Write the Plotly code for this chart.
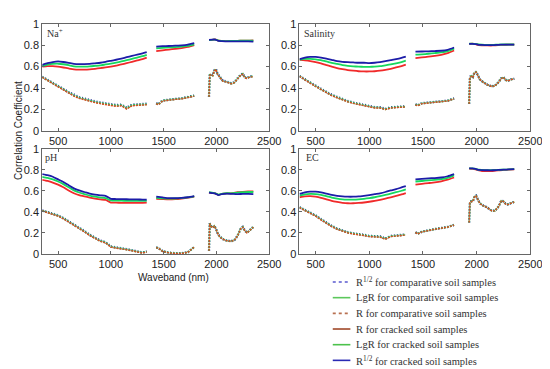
import plotly.graph_objects as go

# ---------------- data ----------------
# wavelength grids (nm); None marks the water-absorption gaps
XU = [350, 400, 450, 500, 550, 600, 650, 700, 750, 800, 850, 900, 950, 1000, 1050, 1100, 1150, 1200, 1250, 1300, 1340, None,
      1430, 1490, 1550, 1610, 1670, 1730, 1790, None,
      1930, 1960, 1990, 2020, 2050, 2100, 2150, 2200, 2250, 2300, 2350]
XL = [350, 400, 450, 500, 550, 600, 650, 700, 750, 800, 850, 900, 950, 1000, 1050, 1100, 1150, 1200, 1250, 1300, 1340, None,
      1430, 1450, 1490, 1550, 1610, 1670, 1730, 1790, None,
      1930, 1937, 1950, 1965, 1980, 1995, 2010, 2030, 2060, 2100, 2140, 2170, 2200, 2230, 2250, 2270, 2290, 2320, 2350]

PANEL_LABELS = ["Na<sup>+</sup>", "Salinity", "pH", "EC"]
X_TICKS = [500, 1000, 1500, 2000, 2500]
Y_TICKS = [0, 0.2, 0.4, 0.6, 0.8, 1]
Y_TICK_TEXT = ["0", "0.2", "0.4", "0.6", "0.8", "1"]

# ---- Na+ ----
NA_CR_R12 = [.617, .632, .643, .648, .643, .635, .626, .623, .624, .626, .631, .636, .644, .654, .664, .675, .688, .700, .712, .724, .735, None,
             .787, .790, .792, .795, .798, .805, .818, None,
             .850, .852, .852, .840, .838, .835, .835, .835, .836, .835, .833]
NA_CR_LGR = [.605, .618, .625, .627, .622, .613, .603, .600, .600, .602, .607, .612, .620, .628, .637, .648, .660, .672, .685, .697, .710, None,
             .770, .775, .779, .782, .786, .793, .808, None,
             .848, .850, .852, .842, .840, .838, .840, .840, .842, .842, .843]
NA_CR_R = [.600, .605, .605, .600, .592, .583, .575, .572, .572, .575, .580, .586, .593, .600, .610, .620, .632, .645, .658, .670, .684, None,
           .744, .752, .759, .766, .773, .783, .800, None,
           .848, .850, .853, .842, .840, .838, .840, .840, .843, .843, .845]
NA_CP_R12 = [.505, .478, .450, .425, .392, .362, .337, .317, .302, .287, .277, .267, .258, .248, .243, .246, .218, .246, .250, .250, .255, None,
             .260, .250, .285, .295, .300, .305, .315, .330, None,
             .320, .525, .530, .520, .565, .578, .535, .505, .470, .460, .445, .455, .495, .525, .535, .500, .495, .510, .510]
NA_CP_LGR = [.503, .474, .445, .420, .386, .356, .331, .311, .296, .281, .271, .261, .252, .242, .237, .241, .212, .241, .245, .245, .250, None,
             .258, .248, .283, .293, .298, .303, .313, .328, None,
             .320, .522, .527, .517, .562, .576, .532, .502, .467, .457, .442, .452, .492, .522, .532, .497, .492, .507, .507]
NA_CP_R = [.500, .470, .440, .415, .380, .350, .325, .305, .290, .275, .265, .255, .245, .235, .230, .235, .205, .235, .240, .240, .245, None,
           .255, .245, .280, .290, .295, .300, .310, .325, None,
           .320, .520, .525, .515, .560, .575, .530, .500, .465, .455, .440, .450, .490, .520, .530, .495, .490, .505, .505]

# ---- Salinity ----
SA_CR_R12 = [.669, .684, .690, .690, .684, .675, .663, .651, .645, .642, .639, .636, .636, .633, .636, .642, .651, .660, .669, .681, .693, None,
             .740, .741, .743, .745, .748, .757, .778, None,
             .812, .812, .810, .803, .802, .800, .800, .803, .805, .805, .805]
SA_CR_LGR = [.665, .672, .672, .668, .660, .648, .635, .625, .615, .608, .603, .600, .598, .598, .600, .604, .612, .620, .630, .642, .655, None,
             .712, .715, .720, .726, .733, .745, .768, None,
             .815, .815, .812, .806, .804, .802, .802, .805, .806, .806, .806]
SA_CR_R = [.662, .658, .652, .643, .630, .615, .600, .587, .577, .568, .562, .557, .555, .555, .557, .562, .570, .580, .592, .605, .618, None,
           .680, .686, .693, .700, .710, .725, .750, None,
           .812, .815, .810, .800, .798, .797, .797, .801, .803, .804, .804]
SA_CP_R12 = [.512, .480, .452, .423, .393, .363, .338, .318, .298, .280, .266, .256, .248, .233, .223, .222, .207, .221, .226, .226, .231, None,
             .250, .240, .260, .266, .269, .274, .284, .304, None,
             .255, .505, .515, .505, .548, .552, .522, .482, .457, .432, .417, .422, .452, .492, .502, .477, .467, .482, .487]
SA_CP_LGR = [.511, .478, .449, .419, .389, .359, .334, .314, .294, .276, .262, .252, .244, .229, .219, .218, .203, .218, .223, .223, .228, None,
             .248, .238, .258, .264, .267, .272, .282, .302, None,
             .255, .502, .512, .502, .546, .551, .521, .481, .456, .431, .416, .421, .451, .491, .501, .476, .466, .481, .486]
SA_CP_R = [.510, .475, .445, .415, .385, .355, .330, .310, .290, .272, .258, .248, .240, .225, .215, .215, .200, .215, .220, .220, .225, None,
           .245, .235, .255, .262, .265, .270, .280, .300, None,
           .255, .500, .510, .500, .545, .550, .520, .480, .455, .430, .415, .420, .450, .490, .500, .475, .465, .480, .485]

# ---- pH ----
PH_CR_R12 = [.760, .750, .735, .710, .685, .655, .625, .605, .590, .575, .565, .558, .553, .525, .523, .522, .521, .520, .519, .518, .518, None,
             .545, .538, .532, .532, .535, .540, .550, None,
             .585, .580, .575, .560, .570, .575, .572, .570, .572, .572, .570]
PH_CR_LGR = [.735, .725, .710, .690, .665, .635, .605, .585, .570, .555, .545, .537, .532, .510, .508, .507, .506, .505, .505, .505, .505, None,
             .535, .530, .527, .528, .532, .538, .548, None,
             .588, .583, .578, .565, .573, .578, .578, .585, .588, .590, .590]
PH_CR_R = [.705, .695, .680, .660, .635, .605, .578, .560, .548, .537, .528, .520, .515, .490, .488, .487, .486, .486, .486, .487, .488, None,
           .525, .522, .520, .522, .528, .536, .547, None,
           .585, .580, .577, .563, .572, .577, .578, .588, .592, .595, .595]
PH_CP_R12 = [.415, .400, .386, .367, .342, .312, .282, .252, .218, .183, .153, .128, .112, .072, .062, .056, .046, .036, .026, .014, .024, None,
             .062, .057, .027, .012, .007, .007, .017, .067, None,
             .030, .292, .262, .252, .267, .242, .202, .167, .142, .127, .122, .132, .172, .242, .257, .222, .202, .227, .257]
PH_CP_LGR = [.413, .398, .383, .364, .339, .309, .279, .249, .214, .179, .149, .124, .109, .069, .059, .053, .043, .033, .023, .011, .022, None,
             .061, .056, .026, .011, .006, .006, .016, .066, None,
             .030, .291, .261, .251, .266, .241, .201, .166, .141, .126, .121, .131, .171, .241, .256, .221, .201, .226, .256]
PH_CP_R = [.410, .395, .380, .360, .335, .305, .275, .245, .210, .175, .145, .120, .105, .065, .055, .050, .040, .030, .020, .008, .020, None,
           .060, .055, .025, .010, .005, .005, .015, .065, None,
           .030, .290, .260, .250, .265, .240, .200, .165, .140, .125, .120, .130, .170, .240, .255, .220, .200, .225, .255]

# ---- EC ----
EC_CR_R12 = [.572, .587, .593, .593, .587, .575, .563, .554, .548, .545, .545, .548, .554, .560, .569, .578, .590, .605, .617, .633, .645, None,
             .710, .715, .720, .723, .728, .740, .760, None,
             .815, .815, .810, .800, .798, .797, .797, .800, .803, .805, .807]
EC_CR_LGR = [.555, .567, .572, .570, .562, .550, .537, .527, .520, .517, .517, .520, .525, .532, .540, .550, .562, .575, .588, .602, .615, None,
             .690, .695, .700, .705, .712, .725, .748, None,
             .815, .815, .810, .802, .800, .798, .798, .801, .803, .805, .807]
EC_CR_R = [.540, .548, .550, .545, .535, .520, .505, .495, .487, .483, .483, .486, .490, .497, .505, .515, .527, .540, .553, .567, .580, None,
           .660, .668, .675, .682, .692, .707, .728, None,
           .812, .810, .805, .795, .790, .788, .790, .797, .800, .803, .805]
EC_CP_R12 = [.445, .420, .396, .367, .332, .297, .267, .242, .222, .207, .197, .192, .182, .172, .167, .167, .147, .172, .176, .181, .186, None,
             .207, .192, .212, .227, .237, .247, .257, .277, None,
             .300, .492, .502, .502, .547, .555, .522, .482, .462, .442, .412, .412, .447, .507, .502, .477, .472, .482, .497]
EC_CP_LGR = [.443, .418, .393, .364, .329, .294, .264, .239, .219, .204, .194, .189, .179, .169, .164, .164, .144, .169, .173, .178, .183, None,
             .206, .191, .211, .226, .236, .246, .256, .276, None,
             .300, .491, .501, .501, .546, .554, .521, .481, .461, .441, .411, .411, .446, .506, .501, .476, .471, .481, .496]
EC_CP_R = [.440, .415, .390, .360, .325, .290, .260, .235, .215, .200, .190, .185, .175, .165, .160, .160, .140, .165, .170, .175, .180, None,
           .205, .190, .210, .225, .235, .245, .255, .275, None,
           .300, .490, .500, .500, .545, .553, .520, .480, .460, .440, .410, .410, .445, .505, .500, .475, .470, .480, .495]

LEGEND_LABELS = ["R<sup>1/2</sup> for comparative soil samples",
                 "LgR for comparative soil samples",
                 "R for comparative soil samples",
                 "R for cracked soil samples",
                 "LgR for cracked soil samples",
                 "R<sup>1/2</sup> for cracked soil samples"]

# ---------------- styling ----------------
W, H = 550, 369
SANS = "Liberation Sans, Arial, sans-serif"
SERIF = "Liberation Serif, Times New Roman, serif"

C_CR_R12 = "#1c1ca8"
C_CR_LGR = "#16d85e"
C_CR_R = "#f02a2a"
C_CP_R12 = "#2a2aa0"
C_CP_LGR = "#2ec060"
C_CP_R = "#e0481e"

# panel pixel boxes: (left, right, top, bottom)
BOXES = [(35, 267, 10, 121), (298, 534, 10, 121), (35, 267, 139.5, 248), (298, 534, 139.5, 248)]
LABEL_POS = [(38, 20), (301, 20), (36, 148), (303, 148)]

panel_data = [
    (NA_CP_R, NA_CP_LGR, NA_CP_R12, NA_CR_R, NA_CR_LGR, NA_CR_R12),
    (SA_CP_R, SA_CP_LGR, SA_CP_R12, SA_CR_R, SA_CR_LGR, SA_CR_R12),
    (PH_CP_R, PH_CP_LGR, PH_CP_R12, PH_CR_R, PH_CR_LGR, PH_CR_R12),
    (EC_CP_R, EC_CP_LGR, EC_CP_R12, EC_CR_R, EC_CR_LGR, EC_CR_R12),
]

fig = go.Figure()
layout = dict(width=W, height=H, margin=dict(l=0, r=0, t=0, b=0),
              paper_bgcolor="white", plot_bgcolor="white", showlegend=False)

for i, (cpr, cpl, cpq, crr, crl, crq) in enumerate(panel_data):
    xa = "x" if i == 0 else f"x{i+1}"
    ya = "y" if i == 0 else f"y{i+1}"
    comp = [(cpq, C_CP_R12, 2.4, "1px,2px"), (cpl, C_CP_LGR, 2.0, "2px,1px"), (cpr, C_CP_R, 1.4, "2px,1px")]
    for ys, col, wd, dsh in comp:
        fig.add_trace(go.Scatter(x=XL, y=ys, xaxis=xa, yaxis=ya, mode="lines",
                                 line=dict(color=col, width=wd, dash=dsh),
                                 connectgaps=False, hoverinfo="skip"))
    crack = [(crr, C_CR_R), (crl, C_CR_LGR), (crq, C_CR_R12)]
    for ys, col in crack:
        fig.add_trace(go.Scatter(x=XU, y=ys, xaxis=xa, yaxis=ya, mode="lines",
                                 line=dict(color=col, width=1.8, shape="spline", smoothing=0.5),
                                 connectgaps=False, hoverinfo="skip"))
    l, r, t, b = BOXES[i]
    axcommon = dict(showline=True, mirror="ticks", linecolor="#666", linewidth=1,
                    ticks="inside", ticklen=3, tickcolor="#666", showgrid=False, zeroline=False,
                    tickfont=dict(family=SANS, size=11, color="#222"))
    key = "" if i == 0 else str(i + 1)
    layout["xaxis" + key] = dict(domain=[l / W, r / W], anchor=ya, range=[350, 2500],
                                 tickvals=X_TICKS, **axcommon)
    layout["yaxis" + key] = dict(domain=[1 - b / H, 1 - t / H], anchor=xa, range=[0, 1],
                                 tickvals=Y_TICKS, ticktext=Y_TICK_TEXT, **axcommon)

annotations = []
for (px, py), lab in zip(LABEL_POS, PANEL_LABELS):
    annotations.append(dict(x=px / W, y=1 - py / H, xref="paper", yref="paper", text=lab,
                            showarrow=False, xanchor="left", yanchor="middle",
                            font=dict(family=SERIF, size=10, color="#333")))
annotations.append(dict(x=10 / W, y=1 - 120 / H, xref="paper", yref="paper",
                        text="Correlation Coefficient", textangle=-90, showarrow=False,
                        xanchor="center", yanchor="middle",
                        font=dict(family=SANS, size=10, color="#222")))
annotations.append(dict(x=169 / W, y=1 - 272 / H, xref="paper", yref="paper",
                        text="Waveband (nm)", showarrow=False, xanchor="center", yanchor="middle",
                        font=dict(family=SANS, size=10, color="#222")))

# manual legend (compact row spacing like the original)
LEG_STYLE = [("#5a5ad0", "dot"), ("#5cc85c", "solid"), ("#b87050", "dot"),
             ("#a04828", "solid"), ("#4cc24c", "solid"), ("#2a2ab4", "solid")]
shapes = []
for k, (lab, (col, dash)) in enumerate(zip(LEGEND_LABELS, LEG_STYLE)):
    yy = 1 - (277 + k * 16.2) / H
    shapes.append(dict(type="line", xref="paper", yref="paper", x0=332 / W, x1=350 / W,
                       y0=yy, y1=yy, line=dict(color=col, width=1.6, dash=dash)))
    annotations.append(dict(x=354 / W, y=yy, xref="paper", yref="paper", text=lab,
                            showarrow=False, xanchor="left", yanchor="middle",
                            font=dict(family=SERIF, size=10.5, color="#333")))

layout["annotations"] = annotations
layout["shapes"] = shapes
fig.update_layout(**layout)
fig.write_html("out.html")
